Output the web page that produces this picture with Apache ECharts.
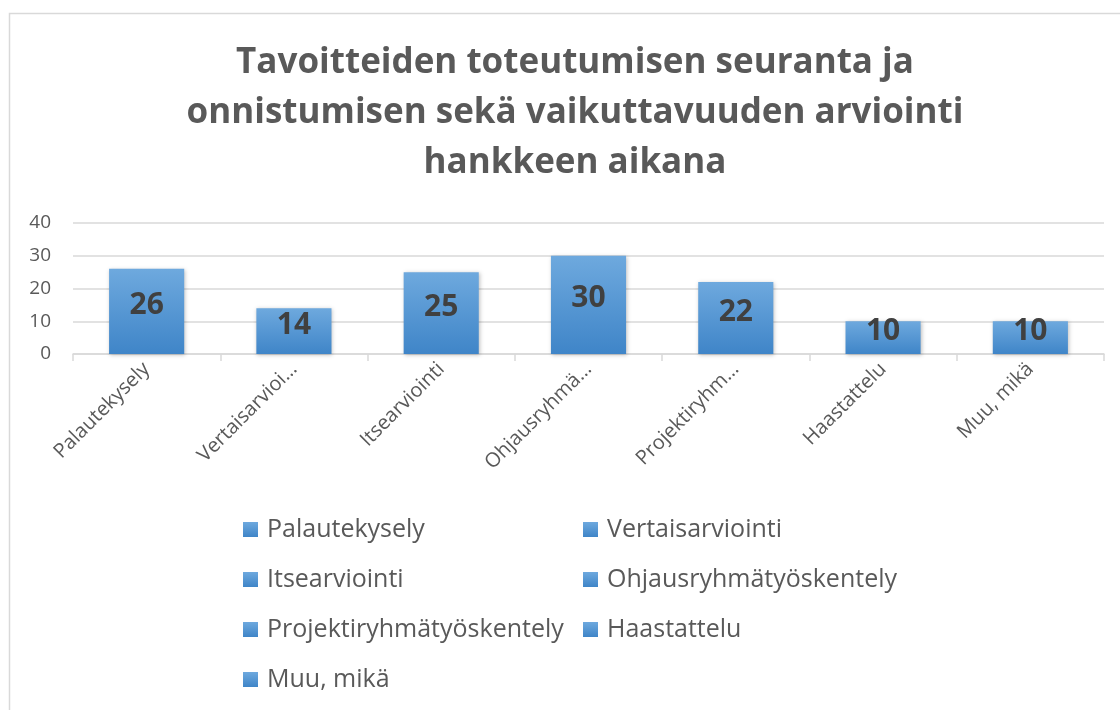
<!DOCTYPE html>
<html>
<head>
<meta charset="utf-8">
<script src="https://cdn.jsdelivr.net/npm/echarts@6/dist/echarts.min.js"></script>
<style>
  html, body { margin: 0; padding: 0; background: #fff; }
  #chart { width: 1120px; height: 710px; }
</style>
</head>
<body>
<div id="chart"></div>
<script>
var titleText = 'Tavoitteiden toteutumisen seuranta ja\nonnistumisen sekä vaikuttavuuden arviointi\nhankkeen aikana';
var categories = ['Palautekysely', 'Vertaisarviointi', 'Itsearviointi', 'Ohjausryhmätyöskentely',
  'Projektiryhmätyöskentely', 'Haastattelu', 'Muu, mikä'];
var tickLabels = ['Palautekysely', 'Vertaisarvioi…', 'Itsearviointi', 'Ohjausryhmä…',
  'Projektiryhm…', 'Haastattelu', 'Muu, mikä'];
var values = [26, 14, 25, 30, 22, 10, 10];
var yTicks = [0, 10, 20, 30, 40];

var font = 'Open Sans';
var textGrey = '#595959';

var barColor = new echarts.graphic.LinearGradient(0, 0, 0, 1, [
  { offset: 0, color: '#6ea9de' },
  { offset: 1, color: '#3f85c8' }
]);

// one series per category so every bar gets its own legend entry
var series = categories.map(function (name, i) {
  var d = values.map(function (v, j) { return j === i ? v : '-'; });
  return {
    name: name,
    type: 'bar',
    stack: 'all',
    barWidth: '51%',
    data: d,
    itemStyle: {
      color: barColor,
      shadowColor: 'rgba(0,0,0,0.25)',
      shadowBlur: 4,
      shadowOffsetX: 1,
      shadowOffsetY: 1
    },
    label: {
      show: true,
      position: 'inside',
      offset: [0, -6],
      fontFamily: font,
      fontWeight: 'bold',
      fontSize: 30,
      color: '#404040'
    }
  };
});

var legendText = { fontFamily: font, fontSize: 25, color: textGrey, padding: [0, 0, 0, 4] };

var chart = echarts.init(document.getElementById('chart'));
chart.setOption({
  animation: false,
  title: {
    text: titleText,
    left: 570,
    top: 33,
    textAlign: 'center',
    textStyle: {
      fontFamily: font,
      fontWeight: 'bold',
      fontSize: 35,
      lineHeight: 50,
      color: textGrey
    }
  },
  graphic: [{
    type: 'rect',
    shape: { x: 9.5, y: 13.5, width: 1300, height: 900 },
    style: { fill: 'none', stroke: '#d9d9d9', lineWidth: 1.5 },
    silent: true
  }],
  legend: [
    {
      orient: 'vertical',
      left: 238,
      top: 512,
      itemGap: 25,
      itemWidth: 15,
      itemHeight: 15,
      icon: 'rect',
      data: [categories[0], categories[2], categories[4], categories[6]],
      textStyle: legendText
    },
    {
      orient: 'vertical',
      left: 578,
      top: 512,
      itemGap: 25,
      itemWidth: 15,
      itemHeight: 15,
      icon: 'rect',
      data: [categories[1], categories[3], categories[5]],
      textStyle: legendText
    }
  ],
  grid: { left: 73, right: 16, top: 223, bottom: 356 },
  xAxis: {
    type: 'category',
    data: tickLabels,
    axisLine: { lineStyle: { color: '#d9d9d9', width: 1.5 } },
    axisTick: { show: true, length: 7, lineStyle: { color: '#d9d9d9', width: 1.5 } },
    axisLabel: {
      rotate: 45,
      interval: 0,
      margin: 12,
      fontFamily: font,
      fontSize: 20,
      color: textGrey
    }
  },
  yAxis: {
    type: 'value',
    min: yTicks[0],
    max: yTicks[yTicks.length - 1],
    interval: 10,
    axisLine: { show: false },
    axisTick: { show: false },
    splitLine: { lineStyle: { color: '#d9d9d9', width: 1.5 } },
    axisLabel: {
      margin: 22,
      fontFamily: font,
      fontSize: 19,
      color: textGrey
    }
  },
  series: series
});
</script>
</body>
</html>
